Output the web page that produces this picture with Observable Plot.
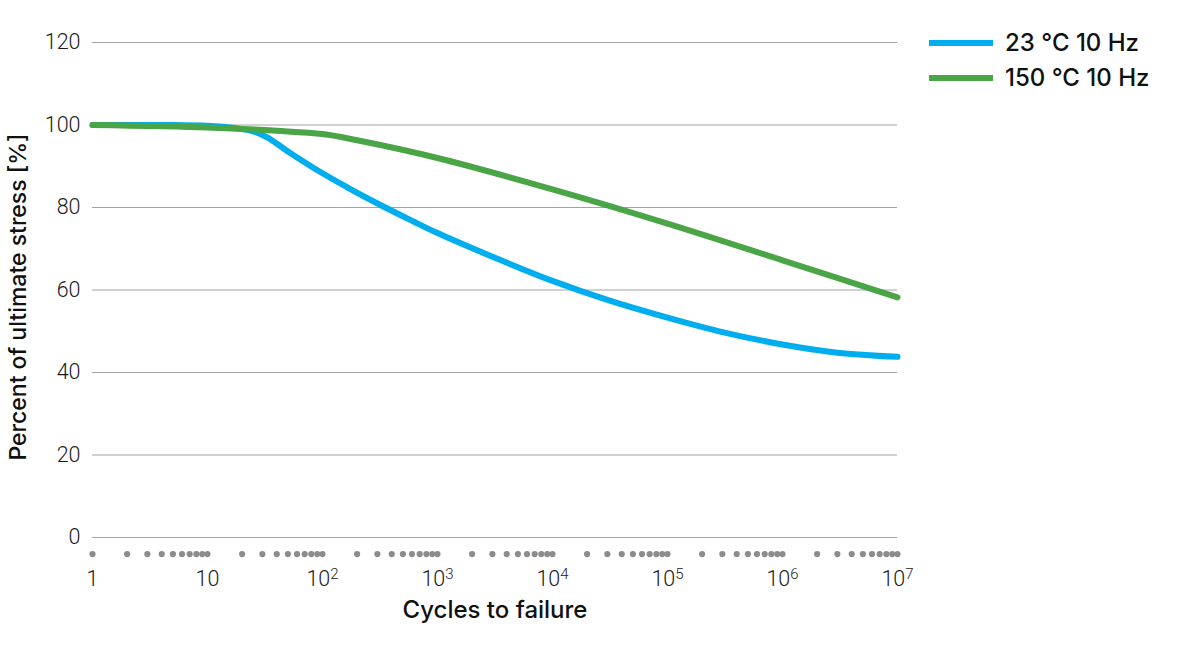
<!DOCTYPE html>
<html>
<head>
<meta charset="utf-8">
<script src="https://cdn.jsdelivr.net/npm/d3@7"></script>
<script src="https://cdn.jsdelivr.net/npm/@observablehq/plot@0.6"></script>
<style>
  html, body { margin: 0; padding: 0; background: #fff; }
  #wrap { position: relative; width: 1198px; height: 663px; overflow: hidden; }
  .leg-sw { position: absolute; left: 929px; width: 64px; height: 6px; }
  .leg-tx { position: absolute; left: 1005px; font-family: Inter, "Liberation Sans", sans-serif; font-weight: 500; font-size: 24px; color: #111; line-height: 1; white-space: nowrap; }
</style>
</head>
<body>
<div id="wrap"></div>
<script>
// ---- data ----
const seriesNames = ["23 °C 10 Hz", "150 °C 10 Hz"];
const seriesColors = ["#00aeef", "#4aa546"];

const blueCycles = [1, 5, 10, 17, 24, 33, 50, 100, 164, 319, 619, 1000, 3162, 10000, 30000, 100000, 300000, 1000000, 3000000, 10000000];
const bluePct    = [100, 100, 99.8, 99.3, 98.6, 97.0, 93.6, 88.3, 84.9, 80.6, 76.6, 73.8, 67.8, 62.2, 57.6, 53.3, 49.8, 46.8, 44.8, 43.8];

const greenCycles = [1, 10, 40, 100, 200, 1000, 10000, 100000, 1000000, 10000000];
const greenPct    = [100, 99.4, 98.6, 97.8, 96.3, 92.0, 84.4, 76.1, 67.2, 58.2];

const yTicks = [0, 20, 40, 60, 80, 100, 120];
const xTicks = [1, 10, 100, 1000, 10000, 100000, 1000000, 10000000];
const xTickExp = [0, 1, 2, 3, 4, 5, 6, 7];
const minorDigits = [1, 2, 3, 4, 5, 6, 7, 8, 9];

const xTitle = "Cycles to failure";
const yTitle = "Percent of ultimate stress [%]";

// ---- build tables ----
const blue = blueCycles.map((c, i) => ({cycles: c, pct: bluePct[i]}));
const green = greenCycles.map((c, i) => ({cycles: c, pct: greenPct[i]}));
const minorTicks = [];
xTickExp.slice(0, -1).forEach(e => minorDigits.forEach(d => minorTicks.push(d * Math.pow(10, e))));
minorTicks.push(xTicks[xTicks.length - 1]);

const tickFont = "Roboto, 'Liberation Sans', sans-serif";
const titleFont = "Inter, 'Liberation Sans', sans-serif";

const chart = Plot.plot({
  width: 1198,
  height: 663,
  marginLeft: 92,
  marginRight: 301,
  marginTop: 42,
  marginBottom: 126,
  style: {fontFamily: tickFont, background: "#fff", overflow: "visible"},
  x: {type: "log", domain: [1, 1e7]},
  y: {domain: [0, 120]},
  marks: [
    Plot.gridY(yTicks, {stroke: "#a3a3a3", strokeOpacity: 1, strokeWidth: 1}),
    Plot.axisY(yTicks, {tickSize: 0, tickPadding: 12, fontSize: 21.5, fontWeight: 300, fill: "#1a1a1a", label: null}),
    Plot.axisX(xTicks, {
      tickSize: 0, tickPadding: 33, fontSize: 21.5, fontWeight: 300, fill: "#1a1a1a", label: null,
      tickFormat: d => { const e = Math.round(Math.log10(d)); return e === 0 ? "1" : e === 1 ? "10" : "10^" + e; }
    }),
    Plot.dot(minorTicks, {x: d => d, frameAnchor: "bottom", dy: 16.6, r: 3.1, fill: "#8c8c8c", stroke: null}),
    Plot.line(blue, {x: "cycles", y: "pct", stroke: seriesColors[0], strokeWidth: 6, curve: "catmull-rom"}),
    Plot.line(green, {x: "cycles", y: "pct", stroke: seriesColors[1], strokeWidth: 6, curve: "catmull-rom"}),
    Plot.text([xTitle], {text: d => d, frameAnchor: "bottom", dy: 73, fontSize: 24, fontWeight: 500, fontFamily: titleFont, fill: "#111", lineAnchor: "middle"}),
    Plot.text([yTitle], {text: d => d, frameAnchor: "left", dx: -74, dy: 7, rotate: -90, fontSize: 23, fontWeight: 500, fontFamily: titleFont, fill: "#111", lineAnchor: "middle", textAnchor: "middle"})
  ]
});

// superscripts for powers of ten
chart.querySelectorAll("text").forEach(t => {
  const m = /^10\^(\d+)$/.exec(t.textContent);
  if (m) {
    t.textContent = "10";
    const s = document.createElementNS("http://www.w3.org/2000/svg", "tspan");
    s.setAttribute("font-size", "15");
    s.setAttribute("dy", "-7");
    s.textContent = m[1];
    t.appendChild(s);
  }
});

const wrap = document.getElementById("wrap");
wrap.appendChild(chart);

// legend
const legTops = [39.5, 74.5];
seriesNames.forEach((name, i) => {
  const sw = document.createElement("div");
  sw.className = "leg-sw";
  sw.style.top = legTops[i] + "px";
  sw.style.background = seriesColors[i];
  wrap.appendChild(sw);
  const tx = document.createElement("div");
  tx.className = "leg-tx";
  tx.style.top = (legTops[i] - 8.5) + "px";
  tx.textContent = name;
  wrap.appendChild(tx);
});
</script>
</body>
</html>
